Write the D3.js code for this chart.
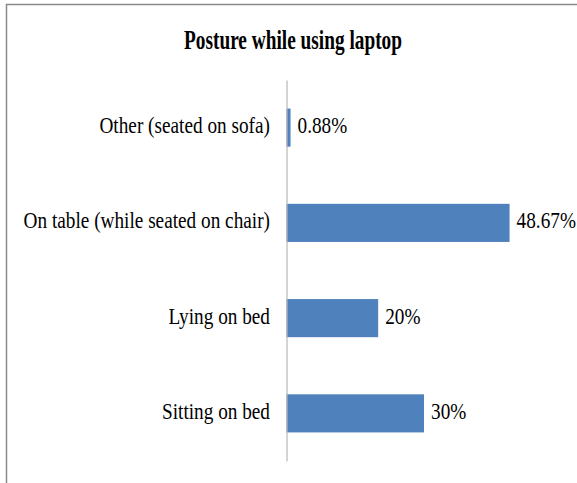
<!DOCTYPE html>
<html><head><meta charset="utf-8">
<script src="https://cdn.jsdelivr.net/npm/d3@7"></script>
<style>body{margin:0;background:#fff}svg{display:block}
text{font-family:"Liberation Serif","DejaVu Serif",serif}</style>
</head><body>
<svg id="chart" width="577" height="483"></svg>
<script>
const categories = ["Other (seated on sofa)", "On table (while seated on chair)", "Lying on bed", "Sitting on bed"];
const values = [0.88, 48.67, 20, 30];
const valueLabels = ["0.88%", "48.67%", "20%", "30%"];
const title = "Posture while using laptop";

const svg = d3.select("#chart");
const W = 577, H = 483;
const sx = 0.82;

// frame
svg.append("line").attr("x1",6).attr("x2",W).attr("y1",4.5).attr("y2",4.5).attr("stroke","#8a8a8a").attr("stroke-width",1.5);
svg.append("line").attr("x1",6.5).attr("x2",6.5).attr("y1",4).attr("y2",H).attr("stroke","#8a8a8a").attr("stroke-width",1.5);

const x0 = 286.5;
const x = d3.scaleLinear().domain([0, 30]).range([x0, 424]);
const y = d3.scaleBand().domain(categories).range([80, 461]).paddingInner(0.6).paddingOuter(0.3);

svg.append("text").attr("transform",`translate(293,49) scale(0.69,1)`)
  .attr("text-anchor","middle").attr("font-weight","bold")
  .attr("font-size",28).text(title);

svg.selectAll("rect.bar").data(values).join("rect").attr("class","bar")
  .attr("x", x(0)).attr("y",(d,i)=>y(categories[i]))
  .attr("width",d=>x(d)-x(0)).attr("height",y.bandwidth())
  .attr("fill","#4f81bd");

const axis = d3.axisLeft(y).tickSize(0).tickPadding(0);
const g = svg.append("g").attr("transform",`translate(${x0},0)`).call(axis);
g.select(".domain").attr("stroke","#b8b8b8").attr("stroke-width",1.2);
g.selectAll(".tick text").remove();

svg.selectAll("text.cat").data(categories).join("text").attr("class","cat")
  .attr("transform",d=>`translate(270,${y(d)+y.bandwidth()/2}) scale(${sx},1)`)
  .attr("dy","0.23em").attr("text-anchor","end")
  .attr("font-size",23.5).attr("fill","#000").text(d=>d);

svg.selectAll("text.val").data(values).join("text").attr("class","val")
  .attr("transform",(d,i)=>`translate(${x(d)+7},${y(categories[i])+y.bandwidth()/2}) scale(${sx},1)`)
  .attr("dy","0.23em").attr("text-anchor","start")
  .attr("font-size",23.5).attr("fill","#000").text((d,i)=>valueLabels[i]);
</script>
</body></html>
